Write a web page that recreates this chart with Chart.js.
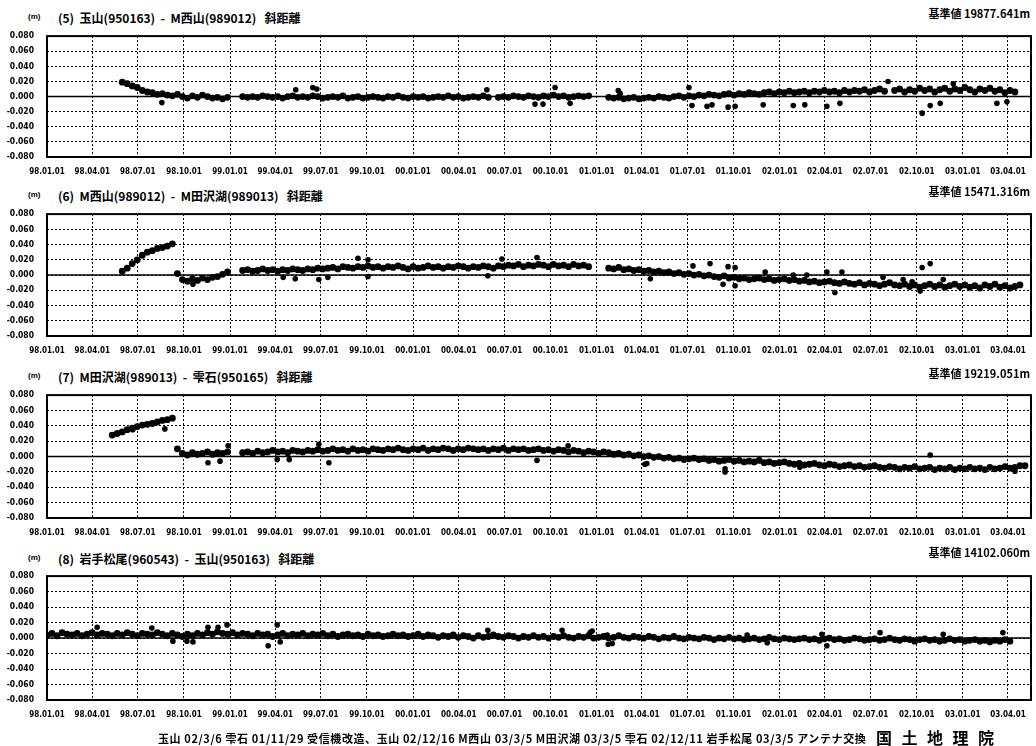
<!DOCTYPE html>
<html>
<head>
<meta charset="utf-8">
<script src="https://cdn.jsdelivr.net/npm/chart.js@4.4.1/dist/chart.umd.min.js"></script>
<style>
  body { margin: 0; background: #fff; width: 1036px; height: 746px; position: relative; overflow: hidden;
         font-family: "Noto Sans CJK JP", sans-serif; color: #000; }
  canvas { position: absolute; left: 0; }
  .t { position: absolute; font-weight: bold; white-space: pre; line-height: 1; }
  .title { font-size: 12px; left: 58px; }
  .base { font-size: 11px; right: 6px; }
  .unit { font-size: 8px; left: 28px; font-family: "Liberation Sans", sans-serif; }
</style>
</head>
<body>

<div class="t title" style="top:12px">(5)  玉山(950163)  -  M西山(989012)   斜距離</div>
<div class="t base" style="top:8px">基準値 19877.641m</div>
<div class="t unit" style="top:13px">(m)</div>
<canvas id="c5"></canvas>

<div class="t title" style="top:190px">(6)  M西山(989012)  -  M田沢湖(989013)   斜距離</div>
<div class="t base" style="top:186px">基準値 15471.316m</div>
<div class="t unit" style="top:191px">(m)</div>
<canvas id="c6"></canvas>

<div class="t title" style="top:371px">(7)  M田沢湖(989013)  -  雫石(950165)   斜距離</div>
<div class="t base" style="top:368px">基準値 19219.051m</div>
<div class="t unit" style="top:372px">(m)</div>
<canvas id="c7"></canvas>

<div class="t title" style="top:553px">(8)  岩手松尾(960543)  -  玉山(950163)   斜距離</div>
<div class="t base" style="top:547px">基準値 14102.060m</div>
<div class="t unit" style="top:554px">(m)</div>
<canvas id="c8"></canvas>

<div class="t" style="left:158px;top:733px;font-size:11px;letter-spacing:0.6px">玉山 02/3/6 雫石 01/11/29 受信機改造、玉山 02/12/16 M西山 03/3/5 M田沢湖 03/3/5 雫石 02/12/11 岩手松尾 03/3/5 アンテナ交換</div>
<div class="t" style="left:876px;top:729px;font-size:16px;letter-spacing:9.5px">国土地理院</div>

<script>
// x values are days since 1998-01-01, y values in mm (shown in m)
const STEP = 10;          // sampling interval of the series, days
const X_MAX = 1962;       // right edge of the plots (~03.05.21)
const Y_MIN = -0.08, Y_MAX = 0.08, Y_STEP = 0.02;

const tickLabels = ['98.01.01', '98.04.01', '98.07.01', '98.10.01', '99.01.01', '99.04.01',
  '99.07.01', '99.10.01', '00.01.01', '00.04.01', '00.07.01', '00.10.01', '01.01.01',
  '01.04.01', '01.07.01', '01.10.01', '02.01.01', '02.04.01', '02.07.01', '02.10.01',
  '03.01.01', '03.04.01'];

// (5) 玉山 - M西山
const p5Start = 150;
const p5Vals = [19, 17, 14, 12, 8, 6, 5, 3, 4, 2,
  1, 3, 0, -2, 1, -1, 2, 0, -2, -1,
  -3, -1, null, null, 0, -1, 0, -1, 1, 0,
  -1, 0, -2, 0, 1, -1, 0, -1, 1, 0,
  -2, -1, 0, -1, 1, -2, -1, 0, -2, -1,
  0, -1, -2, 0, -1, 1, -1, -2, 0, -1,
  0, -2, -1, 0, -1, 1, -1, 0, -2, -1,
  0, -1, 1, -1, null, -1, 0, -1, 1, 0,
  -1, 1, 0, -1, 1, 0, 2, 0, 1, -1,
  0, 1, 0, 1, null, null, null, -1, -2, -1,
  -3, -2, -1, -3, -2, -1, -2, 0, -1, -2,
  0, 1, -1, 1, 0, 2, 1, 3, 2, 1,
  3, 4, 2, 4, 3, 5, 4, 3, 5, 6,
  4, 6, 5, 7, 5, 6, 7, 5, 7, 6,
  8, 6, 7, 5, 8, 6, 8, 7, 9, 6,
  8, 10, 7, null, 8, 10, 6, 9, 7, 11,
  8, 10, 6, 9, 11, 7, 10, 8, 12, 9,
  6, 10, 8, 11, 7, 9, 5, 8, 6];
const p5OutDays = [229, 496, 530, 538, 877, 973, 989, 1013, 1043, 1139, 1143, 1280, 1286, 1316,
  1326, 1358, 1372, 1428, 1488, 1511, 1555, 1581, 1677, 1745, 1761, 1781, 1807, 1894, 1914];
const p5OutVals = [-8, 9, 12, 10, 9, -10, -10, 12, -9, 8, 4, 12, -12, -13,
  -11, -14, -13, -11, -12, -11, -13, -9, 20, -22, -12, -9, 17, -9, -7];

// (6) M西山 - M田沢湖
const p6Start = 150;
const p6Vals = [5, 9, 15, 20, 26, 30, 32, 35, 36, 38,
  41, 2, -6, -8, -5, -7, -4, -6, -3, -2,
  1, 4, null, null, 6, 7, 5, 6, 8, 6,
  7, 5, 7, 6, 8, 7, 6, 8, 7, 9,
  8, 9, 10, 8, 11, 10, 9, 11, 10, 12,
  10, 11, 9, 11, 10, 12, 10, 8, 11, 9,
  10, 12, 10, 11, 9, 11, 10, 12, 11, 9,
  11, 10, 12, 11, 9, 12, 11, 13, 12, 14,
  11, 13, 12, 14, 13, 11, 14, 12, 13, 11,
  14, 12, 13, 11, null, null, null, 9, 8, 10,
  7, 8, 6, 7, 5, 6, 4, 5, 3, 4,
  2, 3, 1, 2, 0, 1, -1, 0, -2, -3,
  -1, -4, -3, -5, -4, -6, -5, -4, -6, -5,
  -7, -6, -5, -7, -6, -8, -7, -9, -8, -10,
  -9, -8, -10, -11, -9, -11, -12, -10, -13, -11,
  -12, -14, -12, -10, -13, -14, -12, -15, -13, -16,
  -14, -12, -15, -13, -16, -14, -12, -15, -13, -16,
  -14, -17, -13, -15, -12, -16, -14, -17, -15, -13];
const p6OutDays = [291, 471, 495, 542, 560, 620, 640, 640, 879, 907, 977, 1203, 1288, 1322, 1358,
  1372, 1348, 1372, 1432, 1488, 1515, 1555, 1585, 1571, 1667, 1707, 1725, 1745, 1761, 1741, 1787];
const p6OutVals = [-12, -3, -5, -6, -3, 22, 20, -2, -1, 21, 23, -5, 12, 15, 11,
  10, -12, -14, 4, 0, 0, 4, 4, -23, -3, -6, -9, 10, 15, -21, -6];

// (7) M田沢湖 - 雫石
const p7Start = 130;
const p7Vals = [28, 30, 32, 35, 37, 39, 41, 42, 43, 45,
  47, 48, 50, 10, 4, 2, 5, 3, 4, 6,
  3, 5, 4, 6, null, null, 5, 6, 4, 7,
  5, 6, 8, 6, 7, 5, 8, 7, 6, 8,
  7, 9, 7, 8, 10, 8, 9, 7, 10, 8,
  9, 7, 10, 9, 8, 10, 9, 11, 9, 8,
  10, 9, 11, 8, 10, 9, 11, 10, 8, 10,
  9, 11, 10, 9, 10, 8, 10, 9, 11, 8,
  10, 9, 10, 8, 9, 10, 8, 9, 7, 9,
  8, 6, 8, 7, 5, 7, 6, 4, 6, 5,
  3, 4, 2, 3, 1, 2, 0, 1, -1, 0,
  -2, -1, -3, -2, -4, -3, -2, -4, -3, -5,
  -4, -6, -5, -4, -6, -5, -7, -6, -7, -5,
  -8, -7, -9, -8, -7, -9, -10, -9, -11, -10,
  -9, -11, -12, -10, -11, -13, -12, -11, -13, -12,
  -14, -13, -12, -14, -15, -13, -14, -16, -14, -15,
  -13, -16, -15, -14, -17, -15, -16, -14, -17, -15,
  -16, -14, -16, -15, -17, -14, -16, -15, -13, -15,
  -14, -12, -12];
const p7OutDays = [171, 235, 321, 345, 361, 459, 483, 542, 562, 977, 1039, 1192, 1196, 1352, 1352,
  1501, 1761, 1930];
const p7OutVals = [35, 36, -8, -6, 14, -4, -4, 16, -8, -5, 14, -10, -9, -16, -20,
  -14, 2, -19];

// (8) 岩手松尾 - 玉山
const p8Start = 0;
const p8Vals = [4, 6, 3, 7, 5, 4, 6, 3, 5, 7,
  4, 6, 5, 3, 6, 4, 7, 5, 3, 6,
  5, 4, 7, 5, 3, 6, 4, 2, 5, 3,
  6, 4, 7, 5, 8, 6, 5, 7, 4, 6,
  5, 3, 6, 4, 5, 2, 4, 6, 3, 5,
  4, 6, 3, 5, 4, 6, 3, 5, 2, 4,
  5, 3, 4, 2, 5, 3, 4, 2, 3, 5,
  3, 4, 2, 3, 5, 2, 4, 3, 1, 3,
  2, 4, 1, 3, 2, 0, 3, 1, 2, 4,
  2, 1, 3, 2, 0, 2, 1, 3, 1, 2,
  0, 2, 1, 3, 1, 0, 2, 1, 3, 0,
  1, 2, 0, 1, 3, 1, 0, 2, 1, 0,
  2, 1, -1, 1, 0, 2, 0, -1, 1, 0,
  -1, 1, 0, -2, 0, -1, 1, -1, 0, -2,
  -1, 0, -2, -1, 1, -1, -2, 0, -1, -2,
  -1, 0, -2, -1, -3, -1, 0, -2, -1, -3,
  -2, 0, -1, -3, -2, -1, -3, -2, 0, -2,
  -3, -1, -2, -4, -2, -1, -3, -2, -4, -3,
  -1, -3, -2, -4, -3, -2, -4, -3, -5, -3,
  -4, -2, -4];
const p8OutDays = [100, 209, 251, 279, 291, 321, 341, 359, 441, 459, 465, 879, 1027, 1083, 1087,
  1117, 1119, 1127, 1396, 1436, 1545, 1555, 1661, 1787, 1906];
const p8OutVals = [14, 13, -4, -4, -5, 14, 14, 17, -10, 17, -5, 10, 10, 7, 9,
  4, -8, -7, 4, -6, 5, -10, 7, 5, 7];

const tickDays = tickLabels.map(s => {
  const [yy, mm, dd] = s.split('.').map(Number);
  const year = yy < 50 ? 2000 + yy : 1900 + yy;
  return Math.round((Date.UTC(year, mm - 1, dd) - Date.UTC(1998, 0, 1)) / 86400000);
});

const tickFont = { family: '"Liberation Sans Narrow", "DejaVu Sans Condensed", "Liberation Sans", sans-serif', weight: 'bold' };

// frame around the plot and the solid zero line
const framePlugin = {
  id: 'frame',
  beforeDatasetsDraw(chart) {
    const { ctx, chartArea: a, scales } = chart;
    const y0 = scales.y.getPixelForValue(0);
    ctx.save();
    ctx.strokeStyle = '#000';
    ctx.lineWidth = 1.5;
    ctx.beginPath();
    ctx.moveTo(a.left, y0);
    ctx.lineTo(a.right, y0);
    ctx.stroke();
    ctx.lineWidth = 2;
    ctx.strokeRect(a.left, a.top, a.right - a.left, a.bottom - a.top);
    ctx.restore();
  }
};

function toPoints(start, vals) {
  const pts = [];
  vals.forEach((v, i) => {
    if (v !== null) pts.push({ x: start + i * STEP, y: v / 1000 });
  });
  return pts;
}

function makePanel(id, plotTop, plotBottom, start, vals, outDays, outVals) {
  const canvas = document.getElementById(id);
  canvas.width = 1036;
  canvas.height = plotBottom - plotTop + 40;
  canvas.style.top = (plotTop - 10) + 'px';

  const outliers = outDays.map((d, i) => ({ x: d, y: outVals[i] / 1000 }));

  new Chart(canvas, {
    type: 'scatter',
    data: {
      datasets: [
        { data: toPoints(start, vals), backgroundColor: '#000', borderWidth: 0, pointRadius: 3.4 },
        { data: outliers, backgroundColor: '#000', borderWidth: 0, pointRadius: 2.8 }
      ]
    },
    options: {
      responsive: false,
      animation: false,
      devicePixelRatio: 1,
      layout: { padding: { top: 10, left: 0, right: 5, bottom: 0 } },
      plugins: { legend: { display: false }, tooltip: { enabled: false } },
      scales: {
        x: {
          type: 'linear',
          min: 0,
          max: X_MAX,
          afterBuildTicks: scale => { scale.ticks = tickDays.map(v => ({ value: v })); },
          afterFit: scale => { scale.height = 30; },
          grid: { color: '#000', lineWidth: 1, drawTicks: false },
          border: { display: false, dash: [2, 2] },
          ticks: {
            autoSkip: false, maxRotation: 0, padding: 10, color: '#000',
            font: { ...tickFont, size: 8 },
            callback: (v, i) => tickLabels[i]
          }
        },
        y: {
          min: Y_MIN,
          max: Y_MAX,
          afterFit: scale => { scale.width = 47; },
          grid: { color: '#000', lineWidth: 1, drawTicks: false },
          border: { display: false, dash: [2, 2] },
          ticks: {
            stepSize: Y_STEP, padding: 13, color: '#000',
            font: { ...tickFont, size: 8.5 },
            callback: v => (Math.abs(v) < 1e-9 ? 0 : v).toFixed(3)
          }
        }
      }
    },
    plugins: [framePlugin]
  });
}

makePanel('c5', 28, 157, p5Start, p5Vals, p5OutDays, p5OutVals);
makePanel('c6', 206, 336, p6Start, p6Vals, p6OutDays, p6OutVals);
makePanel('c7', 387, 518, p7Start, p7Vals, p7OutDays, p7OutVals);
makePanel('c8', 568, 700, p8Start, p8Vals, p8OutDays, p8OutVals);
</script>
</body>
</html>
